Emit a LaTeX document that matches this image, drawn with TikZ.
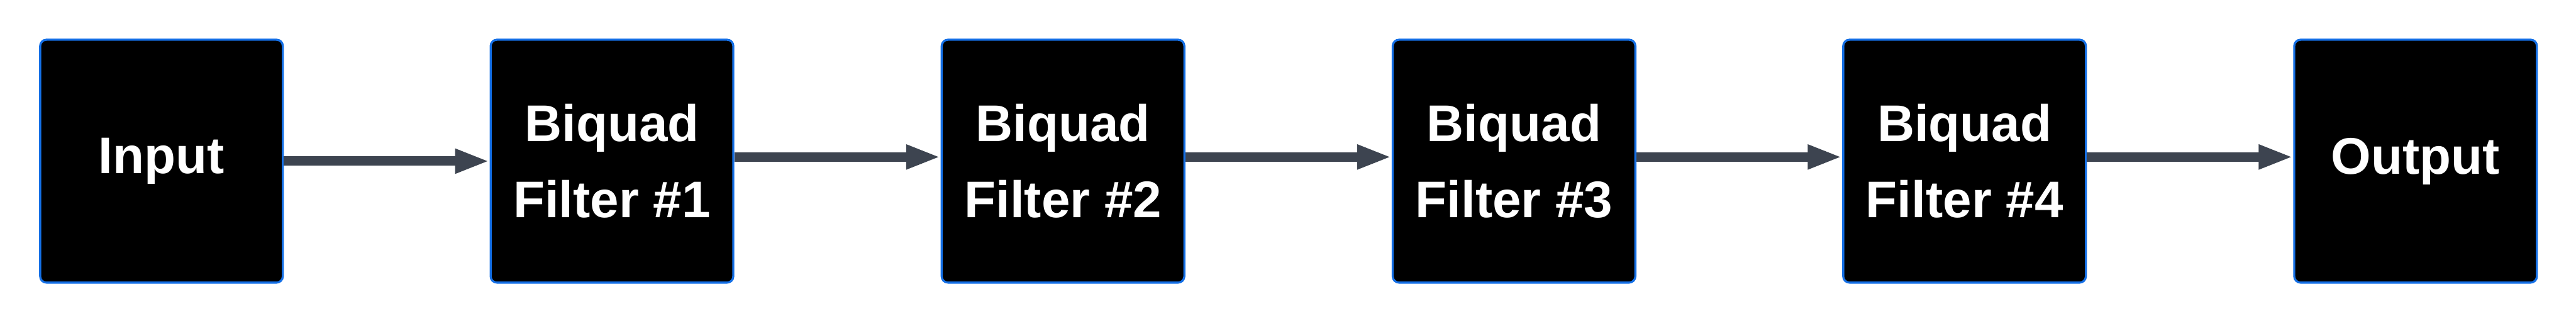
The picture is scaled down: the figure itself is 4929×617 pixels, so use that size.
\documentclass[tikz,border=0pt]{standalone}
\usepackage{fontspec}
\setmainfont{Liberation Sans}
\usetikzlibrary{arrows.meta}
\definecolor{boxblue}{HTML}{1570E6}
\definecolor{arrowgray}{HTML}{3D4450}
\begin{document}
\begin{tikzpicture}[x=0.01cm,y=-0.01cm,
  block/.style={draw=boxblue,fill=black,line width=0.04cm,rounded corners=0.12cm,
    minimum width=4.64cm,minimum height=4.64cm,inner sep=0pt,align=center,
    text=white,font=\bfseries\fontsize{28}{41.3}\selectfont},
  flow/.style={draw=arrowgray,line width=0.18cm,
    -{Triangle[length=0.66cm,width=0.43cm,fill=arrowgray]}}]
\useasboundingbox (0,0) rectangle (4929,617);
\node[block] (in) at (309,308) {\raisebox{-0.06cm}{Input}};
\node[block] (f1) at (1171,308) {Biquad\\Filter \#1};
\node[block] (f2) at (2034,308) {Biquad\\Filter \#2};
\node[block] (f3) at (2897,308) {Biquad\\Filter \#3};
\node[block] (f4) at (3759,308) {Biquad\\Filter \#4};
\node[block] (out) at (4622,308) {\raisebox{-0.06cm}{Output}};
\draw[flow] (in.east) -- (f1.west);
\draw[flow] ([yshift=0.08cm]f1.east) -- ([yshift=0.08cm]f2.west);
\draw[flow] ([yshift=0.08cm]f2.east) -- ([yshift=0.08cm]f3.west);
\draw[flow] ([yshift=0.08cm]f3.east) -- ([yshift=0.08cm]f4.west);
\draw[flow] ([yshift=0.08cm]f4.east) -- ([yshift=0.08cm]out.west);
\end{tikzpicture}
\end{document}
